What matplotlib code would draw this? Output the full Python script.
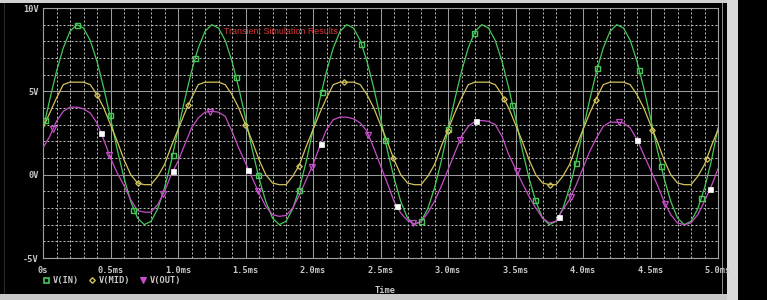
import numpy as np
import matplotlib
matplotlib.use("Agg")
import matplotlib.pyplot as plt
from matplotlib.ticker import MultipleLocator
from matplotlib.lines import Line2D
from matplotlib.patches import Rectangle

# ---------------- data ----------------
time_ms = np.round(np.arange(0, 5.0001, 0.05), 2)

v_in = [
    2.7, 4.5, 6.2, 7.6, 8.6, 9.0, 8.8, 8.05, 6.8, 5.2, 3.4, 1.5, -0.2, -1.6, -2.6, -3.0, -2.8, -2.05, -0.8, 0.8,
    2.7, 4.5, 6.2, 7.6, 8.6, 9.0, 8.8, 8.05, 6.8, 5.2, 3.4, 1.5, -0.2, -1.6, -2.6, -3.0, -2.8, -2.05, -0.8, 0.8,
    2.7, 4.5, 6.2, 7.6, 8.6, 9.0, 8.8, 8.05, 6.8, 5.2, 3.4, 1.5, -0.2, -1.6, -2.6, -3.0, -2.8, -2.05, -0.8, 0.8,
    2.7, 4.5, 6.2, 7.6, 8.6, 9.0, 8.8, 8.05, 6.8, 5.2, 3.4, 1.5, -0.2, -1.6, -2.6, -3.0, -2.8, -2.05, -0.8, 0.8,
    2.7, 4.5, 6.2, 7.6, 8.6, 9.0, 8.8, 8.05, 6.8, 5.2, 3.4, 1.5, -0.2, -1.6, -2.6, -3.0, -2.8, -2.05, -0.8, 0.8,
    2.8,
]

v_mid = [
    2.8, 3.7, 4.6, 5.4, 5.55, 5.55, 5.55, 5.4, 4.8, 4.0, 3.0, 2.0, 0.9, 0.0, -0.5, -0.6, -0.6, -0.1, 0.6, 1.7,
    2.7, 3.7, 4.6, 5.4, 5.55, 5.55, 5.55, 5.4, 4.8, 4.0, 3.0, 2.0, 0.9, 0.0, -0.5, -0.6, -0.6, -0.1, 0.6, 1.7,
    2.7, 3.7, 4.6, 5.4, 5.55, 5.55, 5.55, 5.4, 4.8, 4.0, 3.0, 2.0, 0.9, 0.0, -0.5, -0.6, -0.6, -0.1, 0.6, 1.7,
    2.7, 3.7, 4.6, 5.4, 5.55, 5.55, 5.55, 5.4, 4.8, 4.0, 3.0, 2.0, 0.9, 0.0, -0.5, -0.6, -0.6, -0.1, 0.6, 1.7,
    2.7, 3.7, 4.6, 5.4, 5.55, 5.55, 5.55, 5.4, 4.8, 4.0, 3.0, 2.0, 0.9, 0.0, -0.5, -0.6, -0.6, -0.1, 0.6, 1.7,
    2.7,
]

v_out = [
    1.6, 2.3, 3.2, 3.8, 4.05, 4.05, 3.95, 3.7, 3.1, 2.1, 1.0, 0.1, -0.65, -1.5, -2.15, -2.25, -2.25, -1.8, -1.0, 0.0,
    0.8, 1.8, 2.8, 3.4, 3.75, 3.8, 3.75, 3.5, 2.6, 1.6, 0.7, -0.2, -1.1, -1.9, -2.4, -2.5, -2.45, -2.0, -1.2, -0.3,
    0.6, 1.7, 2.7, 3.3, 3.45, 3.45, 3.35, 3.1, 2.6, 1.6, 0.55, -0.5, -1.6, -2.3, -2.75, -2.95, -2.85, -2.3, -1.6, -0.7,
    0.3, 1.3, 2.3, 2.9, 3.2, 3.25, 3.2, 3.0, 2.3, 1.2, 0.35, -0.5, -1.3, -2.0, -2.6, -2.9, -2.8, -2.1, -1.5, -0.6,
    0.4, 1.4, 2.2, 2.9, 3.15, 3.15, 3.1, 2.8, 2.1, 1.2, 0.3, -0.6, -1.6, -2.4, -2.9, -3.0, -2.9, -2.4, -1.6, -0.7,
    0.35,
]

# trace symbols (marker points)
in_mk_t = [0.015, 0.25, 0.496, 0.67, 0.96, 1.126, 1.427, 1.595, 1.896, 2.064, 2.356, 2.533, 2.80,
           3.00, 3.193, 3.476, 3.644, 3.948, 4.106, 4.417, 4.578, 4.874]
in_mk_v = [3.3, 9.0, 3.6, -2.1, 1.2, 7.0, 5.85, 0.0, -0.9, 4.95, 7.85, 2.1, -2.8,
           2.75, 8.5, 4.2, -1.5, 0.7, 6.4, 6.3, 0.5, -1.4]

mid_mk_t = [0.40, 0.706, 1.076, 1.496, 1.896, 2.232, 2.595, 3.00, 3.415, 3.756, 4.096, 4.513, 4.916]
mid_mk_v = [4.8, -0.5, 4.15, 2.95, 0.55, 5.55, 1.0, 2.6, 4.55, -0.6, 4.5, 2.7, 0.95]

out_mk_t = [0.076, 0.49, 0.89, 1.237, 1.59, 1.99, 2.41, 2.74, 3.09, 3.51, 3.91, 4.27, 4.61]
out_mk_v = [2.75, 1.2, -1.15, 3.78, -0.95, 0.45, 2.4, -2.9, 2.1, 0.2, -1.35, 3.13, -1.76]

white_mk_t = [0.43, 0.965, 1.52, 2.057, 2.62, 3.205, 3.82, 4.40, 4.94]
white_mk_v = [2.5, 0.25, 0.3, 1.85, -1.88, 3.22, -2.52, 2.1, -0.88]

x_ticks = [0.0, 0.5, 1.0, 1.5, 2.0, 2.5, 3.0, 3.5, 4.0, 4.5, 5.0]
x_tick_labels = ["0s", "0.5ms", "1.0ms", "1.5ms", "2.0ms", "2.5ms", "3.0ms", "3.5ms", "4.0ms", "4.5ms", "5.0ms"]
y_ticks = [-5, 0, 5, 10]
y_tick_labels = ["-5V", "0V", "5V", "10V"]

series_labels = ["V(IN)", "V(MID)", "V(OUT)"]
title_text = "Transient Simulation Results"
x_label = "Time"

# ---------------- styling ----------------
W, H = 767, 300
C_IN = "#46c85a"
C_MID = "#d2c45c"
C_OUT = "#c64ec8"
C_TXT = "#c8c8c8"
mono = dict(family="DejaVu Sans Mono", weight="bold", size=6.2)

fig = plt.figure(figsize=(W / 100, H / 100), dpi=100, facecolor="black")

def fx(px):
    return px / W

def fy(py):
    return 1 - py / H

# window decoration
deco = [
    (0, 0, 738, 3, "#d0d0d0"),      # top strip
    (727, 0, 11, 300, "#d8d8d8"),   # right strip
    (0, 294, 727, 6, "#c8c8c8"),    # bottom strip
    (722, 3, 1, 291, "#8a8a8a"),    # inner right line
    (4, 3, 1, 291, "#2a2a2a"),      # inner left line
]
for (x0, y0, w, h, c) in deco:
    fig.add_artist(Rectangle((fx(x0), fy(y0 + h)), w / W, h / H, transform=fig.transFigure,
                             facecolor=c, edgecolor="none", zorder=0))

ax = fig.add_axes([fx(43), fy(258), fx(718) - fx(43), fy(8) - fy(258)])
ax.set_facecolor("black")
ax.set_xlim(0, 5)
ax.set_ylim(-5, 10)

ax.set_xticks(x_ticks)
ax.set_xticklabels(x_tick_labels, fontdict=mono, color=C_TXT)
ax.set_yticks(y_ticks)
ax.set_yticklabels(y_tick_labels, fontdict=mono, color=C_TXT)
ax.xaxis.set_minor_locator(MultipleLocator(0.1))
ax.yaxis.set_minor_locator(MultipleLocator(1))
ax.tick_params(which="both", length=0)
ax.tick_params(axis="x", pad=6)
ax.tick_params(axis="y", pad=3)

ax.grid(which="major", color="#9a9a9a", lw=0.75, ls="-", zorder=1)
ax.grid(which="minor", color="#bdbdbd", lw=0.72, ls=(0, (2, 2)), zorder=1)
ax.set_axisbelow(True)
for s in ax.spines.values():
    s.set_color("#a0a0a0")
    s.set_linewidth(0.8)

lw = 0.9
ax.plot(time_ms, v_in, color=C_IN, lw=lw, zorder=3)
ax.plot(time_ms, v_mid, color=C_MID, lw=lw, zorder=4)
ax.plot(time_ms, v_out, color=C_OUT, lw=lw, zorder=5)

ax.plot(in_mk_t, in_mk_v, ls="none", marker="s", ms=3.6, mfc="none", mec=C_IN, mew=1.0, zorder=6)
ax.plot(mid_mk_t, mid_mk_v, ls="none", marker="D", ms=2.8, mfc="none", mec=C_MID, mew=0.9, zorder=6)
ax.plot(out_mk_t, out_mk_v, ls="none", marker="v", ms=3.8, mfc="none", mec=C_OUT, mew=0.9, zorder=6)
ax.plot(white_mk_t, white_mk_v, ls="none", marker="s", ms=3.6, mfc="white", mec="white", mew=0.5, zorder=7)

# title inside the plot
fig.text(fx(281), fy(31.5), title_text, color="#d83838", fontsize=6.4,
         family="Liberation Sans", ha="center", va="center")

# axis label
fig.text(fx(385), fy(290.5), x_label, color=C_TXT, ha="center", va="center", **mono)

# legend
handles = [
    Line2D([], [], ls="none", marker="s", ms=3.6, mfc="none", mec=C_IN, mew=1.2),
    Line2D([], [], ls="none", marker="D", ms=2.8, mfc="none", mec=C_MID, mew=1.0),
    Line2D([], [], ls="none", marker="v", ms=4.0, mfc=C_OUT, mec=C_OUT, mew=0.8),
]
leg = fig.legend(handles, series_labels, loc="center left", bbox_to_anchor=(fx(43), fy(280.5)),
                 ncol=3, frameon=False, handlelength=0.7, handletextpad=0.45, columnspacing=1.15,
                 borderaxespad=0, borderpad=0, prop=mono)
for t in leg.get_texts():
    t.set_color(C_TXT)

fig.savefig("out.png", dpi=100, facecolor="black")
